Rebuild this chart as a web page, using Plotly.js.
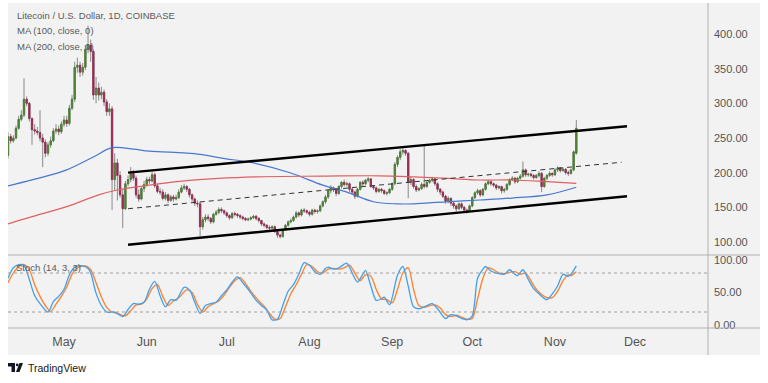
<!DOCTYPE html>
<html>
<head>
<meta charset="utf-8">
<script src="https://cdn.plot.ly/plotly-3.0.1.min.js"></script>
<style>html,body{margin:0;padding:0;background:#fff;}#chart{width:768px;height:383px;}</style>
</head>
<body>
<div id="chart"></div>
<script>
// ---- Data (daily candles from 2021-04-10, index = day offset) ----
const startDate = '2021-04-10';
const opens = [
225,252,246,250,264,277,283,306,300,278,
262,260,258,250,244,228,240,246,260,263,
259,270,276,271,293,306,352,355,345,352,
378,384,375,312,322,312,316,302,288,292,
190,214,196,168,148,184,190,199,192,168,
162,177,183,190,188,197,181,173,172,163,
168,160,165,162,164,172,178,180,176,168,
162,156,155,122,132,136,134,129,140,143,
147,145,142,138,135,141,140,138,136,134,
132,133,135,137,134,131,126,124,121,120,
122,115,110,108,118,124,129,131,136,142,
139,146,145,143,140,146,144,145,152,158,
165,174,178,175,170,180,186,183,184,176,
172,166,176,186,184,189,191,180,178,173,
176,174,170,171,176,184,212,222,230,232,
228,186,190,180,175,177,183,180,186,189,
191,184,176,172,166,159,163,156,152,148,
155,150,146,145,152,164,171,174,168,176,
184,187,184,182,178,180,174,176,183,190,
192,187,192,195,204,197,198,196,193,196,
199,180,192,196,199,197,204,207,203,205,
200,199,204,228];
const highs = [
258,256,254,268,282,290,336,310,302,280,
270,266,290,256,248,244,252,264,270,268,
274,282,282,298,312,360,366,360,358,384,
412,392,378,338,330,324,320,306,300,296,
228,220,202,176,188,196,208,204,196,176,
180,188,194,194,202,200,184,178,176,172,
170,168,168,168,176,182,184,182,178,170,
164,160,158,136,140,140,136,142,146,150,
150,147,144,140,143,144,142,140,138,136,
135,137,139,139,136,132,128,126,124,124,
124,118,112,120,126,131,134,138,145,144,
148,149,147,145,148,148,147,154,160,168,
176,182,180,178,182,188,190,187,186,178,
174,178,188,189,191,194,192,182,180,178,
178,176,173,178,186,215,225,234,236,234,
230,194,192,183,179,186,240,188,191,194,
192,186,178,174,168,166,164,158,154,157,
157,152,148,154,166,173,177,176,178,186,
190,189,186,184,182,181,178,185,192,195,
194,194,198,216,206,200,200,198,198,202,
201,194,198,202,200,206,209,208,207,206,
203,206,232,276];
const lows = [
220,242,243,248,262,274,280,296,274,240,
255,254,245,208,222,224,236,244,256,254,
256,266,266,268,290,302,344,338,340,348,
372,360,305,300,304,306,296,282,282,146,
175,160,164,120,146,180,186,188,164,158,
160,172,180,184,186,178,170,168,160,160,
156,158,158,160,162,170,175,172,164,158,
152,150,108,118,128,130,126,127,138,140,
142,139,135,132,133,137,135,133,131,130,
130,131,133,131,128,123,121,118,117,118,
113,106,105,106,116,122,127,129,134,136,
137,142,140,137,138,141,141,143,150,155,
162,170,172,166,168,177,180,180,172,168,
162,164,174,180,182,186,178,175,170,171,
171,168,167,169,174,182,208,218,226,224,
163,182,177,172,173,175,177,178,184,186,
181,172,168,163,155,156,152,148,144,146,
147,142,141,143,150,162,168,165,166,174,
182,181,179,175,176,170,171,174,181,188,
184,185,190,193,194,194,193,190,191,193,
172,178,189,194,194,195,201,200,201,197,
195,197,202,226];
const closes = [
252,246,250,264,277,283,306,300,278,262,
260,258,250,244,228,240,246,260,263,259,
270,276,271,293,306,352,355,345,352,378,
384,375,312,322,312,316,302,288,292,190,
214,196,168,148,184,190,199,192,168,162,
177,183,190,188,197,181,173,172,163,168,
160,165,162,164,172,178,180,176,168,162,
156,155,122,132,136,134,129,140,143,147,
145,142,138,135,141,140,138,136,134,132,
133,135,137,134,131,126,124,121,120,122,
115,110,108,118,124,129,131,136,142,139,
146,145,143,140,146,144,145,152,158,165,
174,178,175,170,180,186,183,184,176,172,
166,176,186,184,189,191,180,178,173,176,
174,170,171,176,184,212,222,230,232,228,
186,190,180,175,177,183,180,186,189,191,
184,176,172,166,159,163,156,152,148,155,
150,146,145,152,164,171,174,168,176,184,
187,184,182,178,180,174,176,183,190,192,
187,192,195,204,197,198,196,193,196,199,
180,192,196,199,197,204,207,203,205,200,
199,204,230,264];

// Moving averages (read at sampled days)
const ma100Days = [0,9,22,32,39,47,53,66,72,80,92,106,118,127,137,146,152,164,177,189,202,213];
const ma100Vals = [181,189.5,204,222.6,236,234,231,228.5,226.5,221,214,199.5,182,172,158,155,155,158,160.6,163.4,168,179];
const ma200Days = [0,9,22,34,41,53,68,93,118,139,152,165,177,189,202,213];
const ma200Vals = [126,136.5,151,168,175,182,189,194,195,195.5,194,191.8,189.4,189.4,187,184.6];

// Stochastic (14,3,3): %K and %D sampled
const kDays = [0,2,4,6,8,10,12,15,17,19,21,23,25,28,30,31,33,35,37,40,43,45,47,49,51,53,55,57,59,61,63,66,68,70,72,74,76,78,80,82,84,86,88,90,93,95,97,99,101,103,105,107,109,111,113,115,117,119,120,122,124,127,129,131,133,134,136,138,140,141,143,146,148,150,152,154,157,159,161,164,166,168,170,172,174,176,178,179,181,183,186,188,190,191,193,195,197,199,202,204,206,208,210,211,213];
const kVals = [72,88,93,92,70,45,33,20,36,44,55,77,89,91,87,80,49,30,20,20,13,24,33,32,35,55,67,45,28,39,38,58,54,35,18,30,33,35,45,54,66,74,65,55,38,30,23,8,9,30,52,62,78,96,92,82,78,87,89,86,88,95,80,66,78,84,60,38,40,43,31,77,90,60,28,25,30,33,25,10,16,14,10,8,14,72,86,90,83,80,78,85,78,76,85,70,56,48,39,48,60,78,75,78,91];
const dDays = [0,2,4,6,8,10,12,14,16,18,20,22,24,26,29,31,33,35,37,39,41,44,46,48,50,52,54,56,58,60,62,64,67,69,71,73,75,77,79,81,83,85,87,89,91,94,96,98,100,102,104,106,108,110,112,114,116,118,120,122,124,126,128,130,132,134,136,138,140,142,144,146,148,150,152,154,156,158,160,162,164,166,168,170,172,174,176,178,180,182,184,186,188,190,192,194,196,198,200,202,204,206,208,210,211,213];
const dVals = [65,80,90,93,85,62,44,30,21,32,44,58,78,88,91,85,65,43,27,20,18,14,22,31,32,40,56,62,44,30,37,42,54,50,32,20,28,33,37,46,58,68,73,64,52,37,29,18,9,10,28,48,62,78,93,90,82,80,86,87,86,88,92,80,68,77,75,55,40,39,34,55,80,88,55,30,27,30,31,26,16,13,15,12,9,10,40,72,88,85,80,79,81,82,78,80,68,55,47,42,42,52,68,77,76,82];

// Channel drawings
const channelDates = ['2021-05-25','2021-11-28'];
const upperLine = [200, 267];
const lowerLine = [96, 166];
const midDates = ['2021-05-25','2021-11-26'];
const midLine = [148, 215];

// Axis ticks
const priceTicks = [100,150,200,250,300,350,400];
const stochTicks = [0,50,100];
const monthTicks = ['2021-05-01','2021-06-01','2021-07-01','2021-08-01','2021-09-01','2021-10-01','2021-11-01','2021-12-01'];
const monthLabels = ['May','Jun','Jul','Aug','Sep','Oct','Nov','Dec'];

// ---- helpers ----
const t0 = Date.parse(startDate + 'T00:00:00Z');
function dayDate(d){ return new Date(t0 + d*86400000).toISOString().slice(0,19).replace('T',' '); }
const dates = opens.map((_, i) => dayDate(i));
const bodyHigh = opens.map((o, i) => Math.max(o, closes[i]));
const bodyLow = opens.map((o, i) => Math.min(o, closes[i]));
const px = x => (x - 8) / 700;
const py = y => (328 - y) / 325;

const GREEN = '#4a8031', RED = '#9a2a55', WICK = '#8a8a8a';

const traces = [
  {type:'scatter', mode:'lines', x: ma100Days.map(dayDate), y: ma100Vals, line:{color:'#4a78d0', width:1.2, shape:'spline'}, hoverinfo:'skip', xaxis:'x', yaxis:'y'},
  {type:'scatter', mode:'lines', x: ma200Days.map(dayDate), y: ma200Vals, line:{color:'#e06060', width:1.2, shape:'spline'}, hoverinfo:'skip', xaxis:'x', yaxis:'y'},
  {type:'candlestick', x: dates, open: opens, high: highs, low: lows, close: closes,
   increasing:{line:{color:WICK, width:1}, fillcolor:'rgba(0,0,0,0)'},
   decreasing:{line:{color:WICK, width:1}, fillcolor:'rgba(0,0,0,0)'},
   whiskerwidth:0, hoverinfo:'skip', xaxis:'x', yaxis:'y'},
  {type:'candlestick', x: dates, open: opens, high: bodyHigh, low: bodyLow, close: closes,
   increasing:{line:{color:GREEN, width:0.8}, fillcolor:GREEN},
   decreasing:{line:{color:RED, width:0.8}, fillcolor:RED},
   whiskerwidth:0, hoverinfo:'skip', xaxis:'x', yaxis:'y'},
  {type:'scatter', mode:'lines', x: channelDates, y: upperLine, line:{color:'#000', width:2.4}, hoverinfo:'skip', xaxis:'x', yaxis:'y'},
  {type:'scatter', mode:'lines', x: channelDates, y: lowerLine, line:{color:'#000', width:2.4}, hoverinfo:'skip', xaxis:'x', yaxis:'y'},
  {type:'scatter', mode:'lines', x: midDates, y: midLine, line:{color:'#333', width:1, dash:'5px,4px'}, hoverinfo:'skip', xaxis:'x', yaxis:'y'},
  {type:'scatter', mode:'lines', x: dDays.map(dayDate), y: dVals, line:{color:'#ff7f2a', width:1.3, shape:'spline', smoothing:0.8}, hoverinfo:'skip', xaxis:'x', yaxis:'y2'},
  {type:'scatter', mode:'lines', x: kDays.map(dayDate), y: kVals, line:{color:'#3fa0f0', width:1.3, shape:'spline', smoothing:0.8}, hoverinfo:'skip', xaxis:'x', yaxis:'y2'}
];

const gridGray = '#b0b0b0';
const shapes = [
  {type:'rect', xref:'paper', yref:'paper', x0:0, x1:px(760), y0:py(355), y1:1, fillcolor:'#f2f2f2', line:{width:0}, layer:'below'},
  {type:'line', xref:'paper', yref:'paper', x0:1, x1:1, y0:py(355), y1:1, line:{color:gridGray, width:1}},
  {type:'line', xref:'paper', yref:'paper', x0:0, x1:px(760), y0:py(255), y1:py(255), line:{color:gridGray, width:1}},
  {type:'line', xref:'paper', yref:'paper', x0:0, x1:px(760), y0:0, y1:0, line:{color:gridGray, width:1}},
  {type:'line', xref:'paper', yref:'y2', x0:0, x1:1, y0:80, y1:80, line:{color:'#a0a0a0', width:1, dash:'3px,3px'}},
  {type:'line', xref:'paper', yref:'y2', x0:0, x1:1, y0:20, y1:20, line:{color:'#a0a0a0', width:1, dash:'3px,3px'}},
  // TradingView logo
  {type:'path', xref:'paper', yref:'paper', fillcolor:'#131722', line:{width:0},
   path:`M ${px(8)},${py(363)} L ${px(15)},${py(363)} L ${px(15)},${py(372)} L ${px(11.5)},${py(372)} L ${px(11.5)},${py(366.5)} L ${px(8)},${py(366.5)} Z`},
  {type:'circle', xref:'paper', yref:'paper', fillcolor:'#131722', line:{width:0},
   x0:px(15.8), x1:px(18.6), y0:py(366.3), y1:py(363.5)},
  {type:'path', xref:'paper', yref:'paper', fillcolor:'#131722', line:{width:0},
   path:`M ${px(19.5)},${py(363)} L ${px(23)},${py(363)} L ${px(19.5)},${py(372)} L ${px(16)},${py(372)} Z`}
];

const lab = {family:'Liberation Sans, Arial, sans-serif', size:9.5, color:'#5a5a5a'};
const annotations = [
  {text:'Litecoin / U.S. Dollar, 1D, COINBASE', x:px(15), y:py(15)},
  {text:'MA (100, close, 0)', x:px(15), y:py(31)},
  {text:'MA (200, close, 0)', x:px(15), y:py(46)},
  {text:'Stoch (14, 3, 3)', x:px(14), y:py(267)}
].map(a => Object.assign({xref:'paper', yref:'paper', xanchor:'left', yanchor:'middle', showarrow:false, font:lab}, a));
annotations.push({text:'TradingView', xref:'paper', yref:'paper', x:px(26), y:py(368), xanchor:'left', yanchor:'middle', showarrow:false,
  font:{family:'Liberation Sans, Arial, sans-serif', size:10.5, color:'#131722'}});

const axFont = {family:'Liberation Sans, Arial, sans-serif', size:11, color:'#555'};
const layout = {
  width:768, height:383,
  margin:{l:8, r:60, t:3, b:55, pad:0},
  paper_bgcolor:'#ffffff', plot_bgcolor:'#f2f2f2',
  showlegend:false,
  xaxis:{type:'date', range:['2021-04-10 00:00','2021-12-28 08:40'], anchor:'y2',
    tickvals:monthTicks, ticktext:monthLabels, showgrid:false, zeroline:false, ticks:'', showline:false,
    tickfont:{family:'Liberation Sans, Arial, sans-serif', size:12.5, color:'#555'}, ticklabelstandoff:4,
    rangeslider:{visible:false}, fixedrange:true},
  yaxis:{domain:[py(255), 1], range:[81.25, 444.7], side:'right', tickvals:priceTicks,
    ticktext:priceTicks.map(v => v.toFixed(2)), showgrid:false, zeroline:false, ticks:'', showline:false,
    tickfont:axFont, ticklabelstandoff:5, fixedrange:true},
  yaxis2:{domain:[0, py(255)], range:[-4.6, 107.7], side:'right', anchor:'x', tickvals:stochTicks,
    ticktext:stochTicks.map(v => v.toFixed(2)), showgrid:false, zeroline:false, ticks:'', showline:false,
    tickfont:axFont, ticklabelstandoff:5, fixedrange:true},
  shapes:shapes,
  annotations:annotations
};

Plotly.newPlot('chart', traces, layout, {staticPlot:true, displayModeBar:false});
</script>
</body>
</html>
